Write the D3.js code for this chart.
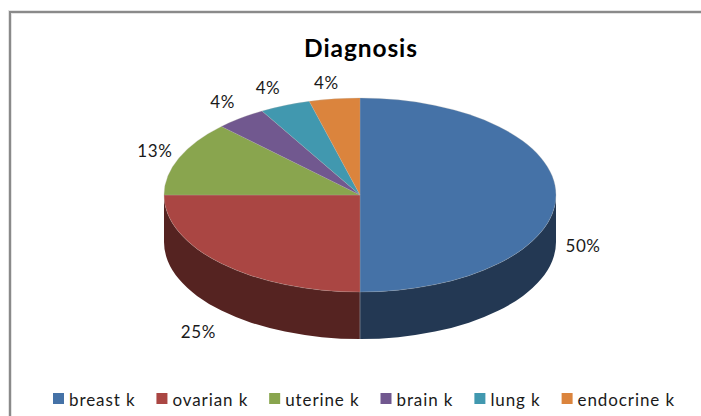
<!DOCTYPE html>
<html>
<head>
<meta charset="utf-8">
<script src="https://cdn.jsdelivr.net/npm/d3@7"></script>
<style>
  html, body { margin: 0; padding: 0; background: #fff; }
  svg { display: block; }
  text { font-family: Lato, "Open Sans", sans-serif; fill: #1a1a1a; }
</style>
</head>
<body>
<div id="chart"></div>
<script>
var categories = ["breast k", "ovarian k", "uterine k", "brain k", "lung k", "endocrine k"];
var counts = [12, 6, 3, 1, 1, 1];
var topColors = ["#4572a7", "#aa4643", "#89a54e", "#71588f", "#4198af", "#db843d"];
var sideColors = ["#233853", "#552321", "#445327", "#382c47", "#204c57", "#6d411e"];
// excel moved the labels by hand, so these are pixel nudges from the ellipse edge
var labelNudgeX = [27, -23, -24, -18, -17, -8];
var labelNudgeY = [50, 68, -8, -17, -18, -17];

var width = 701, height = 416;
var cx = 360, cy = 195, rx = 196, ry = 97, depth = 47;

var svg = d3.select("#chart").append("svg")
    .attr("width", width)
    .attr("height", height);

// chart frame, only the left and top edges are inside the crop
svg.append("path")
    .attr("d", "M10," + height + "V12H" + width)
    .attr("fill", "none")
    .attr("stroke", "#e4e4e4")
    .attr("stroke-width", 4);
svg.append("path")
    .attr("d", "M10," + height + "V12H" + width)
    .attr("fill", "none")
    .attr("stroke", "#8a8a8a")
    .attr("stroke-width", 2);

svg.append("text")
    .attr("x", 361)
    .attr("y", 57)
    .attr("text-anchor", "middle")
    .style("font-size", "24.5px")
    .style("letter-spacing", "0.9px")
    .style("font-weight", "bold")
    .style("fill", "#000")
    .text("Diagnosis");

var total = d3.sum(counts);
var pie = d3.pie().sort(null);
var arcs = pie(counts);
var arc = d3.arc().innerRadius(0).outerRadius(rx);
var percent = d3.format(".0%");

function edgeX(a) { return rx * Math.sin(a); }
function edgeY(a) { return -ry * Math.cos(a); }

// wall of the disc: only the part of a slice that faces the viewer
function wallPath(d) {
  var a0 = Math.max(d.startAngle, Math.PI / 2);
  var a1 = Math.min(d.endAngle, Math.PI * 1.5);
  if (a1 <= a0) return null;
  return "M" + edgeX(a0) + "," + edgeY(a0) +
    "A" + rx + "," + ry + " 0 0 1 " + edgeX(a1) + "," + edgeY(a1) +
    "v" + depth +
    "A" + rx + "," + ry + " 0 0 0 " + edgeX(a0) + "," + (edgeY(a0) + depth) + "Z";
}

var pieGroup = svg.append("g")
    .attr("transform", "translate(" + cx + "," + cy + ")");

pieGroup.selectAll(".wall")
  .data(arcs)
  .enter().append("path")
    .attr("class", "wall")
    .attr("d", wallPath)
    .attr("fill", function(d, i) { return sideColors[i]; });

// seam between the two visible walls
pieGroup.append("line")
    .attr("x1", 0)
    .attr("x2", 0)
    .attr("y1", ry)
    .attr("y2", ry + depth)
    .attr("stroke", "#8c8f99")
    .attr("stroke-width", 0.7);

pieGroup.append("g")
    .attr("transform", "scale(1," + (ry / rx) + ")")
  .selectAll(".slice")
  .data(arcs)
  .enter().append("path")
    .attr("class", "slice")
    .attr("d", arc)
    .attr("fill", function(d, i) { return topColors[i]; })
    .attr("stroke", "#b9b3ad")
    .attr("stroke-width", 0.5)
    .attr("stroke-opacity", 0.5)
    .attr("vector-effect", "non-scaling-stroke");

pieGroup.selectAll(".pct")
  .data(arcs)
  .enter().append("text")
    .attr("class", "pct")
    .attr("x", function(d, i) { return edgeX((d.startAngle + d.endAngle) / 2) + labelNudgeX[i]; })
    .attr("y", function(d, i) { return edgeY((d.startAngle + d.endAngle) / 2) + labelNudgeY[i]; })
    .attr("dy", "0.4em")
    .attr("text-anchor", "middle")
    .style("font-size", "17px")
    .style("letter-spacing", "0.6px")
    .text(function(d) { return percent(d.value / total); });

// legend
var legend = svg.append("g");
var legendX = 53;
categories.forEach(function(name, i) {
  legend.append("rect")
      .attr("x", legendX)
      .attr("y", 393)
      .attr("width", 11)
      .attr("height", 11)
      .attr("fill", topColors[i]);
  var label = legend.append("text")
      .attr("x", legendX + 16)
      .attr("y", 406)
      .style("font-size", "17px")
      .style("letter-spacing", "0.9px")
      .text(name);
  legendX += 16 + label.node().getComputedTextLength() + 21;
});
</script>
</body>
</html>
